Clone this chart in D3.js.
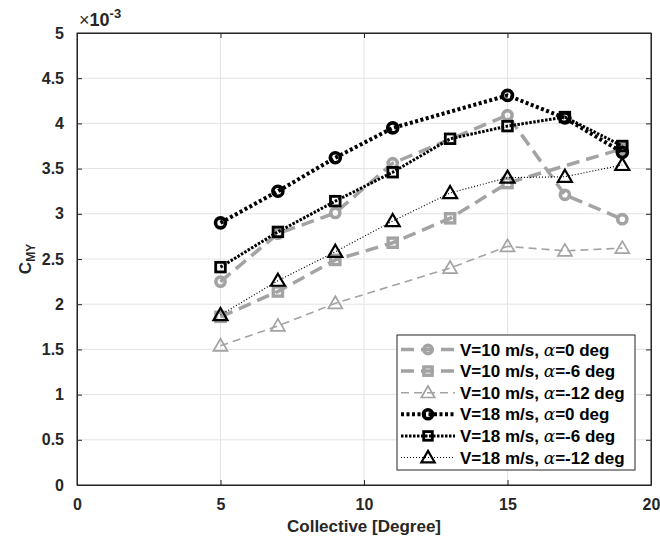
<!DOCTYPE html>
<html>
<head>
<meta charset="utf-8">
<script src="https://cdn.jsdelivr.net/npm/d3@7"></script>
<style>
  body { margin: 0; background: #fff; }
  svg { font-family: "Liberation Sans", Arial, sans-serif; }
</style>
</head>
<body>
<div id="vis"></div>
<script>
// data (values in units of 1e-3)
var xTicks = [0, 5, 10, 15, 20];
var yTicks = [0, 0.5, 1, 1.5, 2, 2.5, 3, 3.5, 4, 4.5, 5];

var v10a0x = [5, 7, 9, 11, 15, 17, 19];
var v10a0y = [2.25, 2.78, 3.01, 3.56, 4.09, 3.21, 2.94];
var v10a6x = [5, 7, 9, 11, 13, 15, 19];
var v10a6y = [1.86, 2.14, 2.49, 2.68, 2.95, 3.34, 3.72];
var v10a12x = [5, 7, 9, 13, 15, 17, 19];
var v10a12y = [1.54, 1.76, 2.01, 2.40, 2.64, 2.59, 2.62];
var v18a0x = [5, 7, 9, 11, 15, 17, 19];
var v18a0y = [2.90, 3.25, 3.62, 3.95, 4.31, 4.06, 3.68];
var v18a6x = [5, 7, 9, 11, 13, 15, 17, 19];
var v18a6y = [2.41, 2.80, 3.14, 3.46, 3.83, 3.97, 4.07, 3.75];
var v18a12x = [5, 7, 9, 11, 13, 15, 17, 19];
var v18a12y = [1.88, 2.26, 2.58, 2.92, 3.23, 3.40, 3.41, 3.54];

var labels = ["V=10 m/s, ", "V=10 m/s, ", "V=10 m/s, ", "V=18 m/s, ", "V=18 m/s, ", "V=18 m/s, "];
var alphas = ["=0 deg", "=-6 deg", "=-12 deg", "=0 deg", "=-6 deg", "=-12 deg"];

var gray = "#a3a3a3";
var series = [
  {x: v10a0x, y: v10a0y, color: gray, width: 3.5, dash: "13,7", marker: "circle", mw: 3.6, ms: 4.6},
  {x: v10a6x, y: v10a6y, color: gray, width: 3.5, dash: "13,7", marker: "square", mw: 3.4, ms: 4.6},
  {x: v10a12x, y: v10a12y, color: gray, width: 1.6, dash: "8,5", marker: "triangle", mw: 1.7, ms: 7},
  {x: v18a0x, y: v18a0y, color: "#000", width: 4, dash: "3,2.5", marker: "circle", mw: 3.6, ms: 5},
  {x: v18a6x, y: v18a6y, color: "#000", width: 3, dash: "2.5,1.5", marker: "square", mw: 2.8, ms: 4.8},
  {x: v18a12x, y: v18a12y, color: "#000", width: 1.2, dash: "1,2", marker: "triangle", mw: 2.2, ms: 7}
];

var W = 660, H = 542;
var margin = {top: 33, right: 9, bottom: 57, left: 77};
var w = W - margin.left - margin.right,
    h = H - margin.top - margin.bottom;

var svg = d3.select("#vis").append("svg")
  .attr("width", W).attr("height", H);

var all = svg.append("g")
  .attr("transform", "translate(" + margin.left + "," + margin.top + ")");

var x = d3.scaleLinear().domain([0, 20]).range([0, w]);
var y = d3.scaleLinear().domain([0, 5]).range([h, 0]);

// grid
all.append("g").selectAll("line").data(xTicks).enter().append("line")
  .attr("x1", function(d) { return x(d); }).attr("x2", function(d) { return x(d); })
  .attr("y1", 0).attr("y2", h)
  .attr("stroke", "#e3e3e3").attr("stroke-width", 1);
all.append("g").selectAll("line").data(yTicks).enter().append("line")
  .attr("y1", function(d) { return y(d); }).attr("y2", function(d) { return y(d); })
  .attr("x1", 0).attr("x2", w)
  .attr("stroke", "#e3e3e3").attr("stroke-width", 1);

// axes
var tickFmt = function(d) { return d3.format("")(d); };
var gx = all.append("g").attr("transform", "translate(0," + h + ")")
  .call(d3.axisBottom(x).tickValues(xTicks).tickSizeInner(-5).tickSizeOuter(0).tickPadding(14).tickFormat(tickFmt));
var gy = all.append("g")
  .call(d3.axisLeft(y).tickValues(yTicks).tickSizeInner(-5).tickSizeOuter(0).tickPadding(13).tickFormat(tickFmt));
var gx2 = all.append("g")
  .call(d3.axisTop(x).tickValues(xTicks).tickSizeInner(-5).tickSizeOuter(0).tickFormat(""));
var gy2 = all.append("g").attr("transform", "translate(" + w + ",0)")
  .call(d3.axisRight(y).tickValues(yTicks).tickSizeInner(-5).tickSizeOuter(0).tickFormat(""));

[gx, gy, gx2, gy2].forEach(function(g) {
  g.selectAll(".domain").attr("stroke", "#262626");
  g.selectAll(".tick line").attr("stroke", "#262626");
  g.selectAll("text").attr("fill", "#262626")
    .style("font-size", "16px").style("font-weight", "bold");
});

// lines + markers
var line = d3.line()
  .x(function(d) { return x(d[0]); })
  .y(function(d) { return y(d[1]); });

function drawMarker(g, type, cx, cy, s) {
  var m;
  if (type === "circle") {
    m = g.append("circle").attr("cx", cx).attr("cy", cy).attr("r", s.ms);
  } else if (type === "square") {
    m = g.append("rect").attr("x", cx - s.ms).attr("y", cy - s.ms)
      .attr("width", 2 * s.ms).attr("height", 2 * s.ms);
  } else {
    var r = s.ms;
    m = g.append("path").attr("d", "M" + cx + "," + (cy - r) +
      "L" + (cx + r) + "," + (cy + r * 0.72) + "L" + (cx - r) + "," + (cy + r * 0.72) + "Z")
      .attr("stroke-linejoin", "miter");
  }
  m.attr("fill", "none").attr("stroke", s.color).attr("stroke-width", s.mw);
}

series.forEach(function(s) {
  var pts = s.x.map(function(v, i) { return [v, s.y[i]]; });
  var g = all.append("g");
  g.append("path").datum(pts)
    .attr("fill", "none")
    .attr("stroke", s.color)
    .attr("stroke-width", s.width)
    .attr("stroke-dasharray", s.dash)
    .attr("d", line);
  pts.forEach(function(p) {
    drawMarker(g, s.marker, x(p[0]), y(p[1]), s);
  });
});

// box outline on top
all.append("rect").attr("x", 0).attr("y", 0).attr("width", w).attr("height", h)
  .attr("fill", "none").attr("stroke", "#262626").attr("stroke-width", 1);

// exponent label
var ex = svg.append("text").attr("x", 79).attr("y", 26).attr("fill", "#262626")
  .style("font-size", "18px");
ex.append("tspan").text("\u00d7").style("font-size", "18px");
ex.append("tspan").text("10").style("font-weight", "bold");
ex.append("tspan").text("-3").attr("dy", -8).style("font-size", "13px").style("font-weight", "bold");

// axis labels
svg.append("text").attr("x", margin.left + w / 2).attr("y", 532)
  .attr("text-anchor", "middle").attr("fill", "#262626")
  .style("font-size", "17px").style("font-weight", "bold")
  .text("Collective [Degree]");

var yl = svg.append("text")
  .attr("transform", "translate(31," + (margin.top + h / 2) + ") rotate(-90)")
  .attr("text-anchor", "middle").attr("fill", "#262626")
  .style("font-size", "17px").style("font-weight", "bold");
yl.append("tspan").text("C");
yl.append("tspan").text("MY").attr("dy", 4).style("font-size", "12px");

// legend
var lg = svg.append("g").attr("transform", "translate(397,335)");
lg.append("rect").attr("x", 0).attr("y", 0).attr("width", 238).attr("height", 135)
  .attr("fill", "#fff").attr("stroke", "#262626").attr("stroke-width", 1);

series.forEach(function(s, i) {
  var yy = 14.5 + i * 21.6;
  var row = lg.append("g");
  row.append("line").attr("x1", 4).attr("x2", 58).attr("y1", yy).attr("y2", yy)
    .attr("stroke", s.color).attr("stroke-width", s.width).attr("stroke-dasharray", s.dash);
  var ms = s.marker === "triangle" ? s.ms * 0.95 : s.ms * 0.9;
  drawMarker(row, s.marker, 31, yy, {ms: ms, color: s.color, mw: s.mw});
  var t = row.append("text").attr("x", 63).attr("y", yy + 6).attr("fill", "#000")
    .style("font-size", "17px").style("font-weight", "bold");
  t.append("tspan").text(labels[i]);
  t.append("tspan").text("\u03b1").style("font-family", "'DejaVu Serif', serif")
    .style("font-style", "italic").style("font-weight", "normal");
  t.append("tspan").text(alphas[i]);
});
</script>
</body>
</html>
